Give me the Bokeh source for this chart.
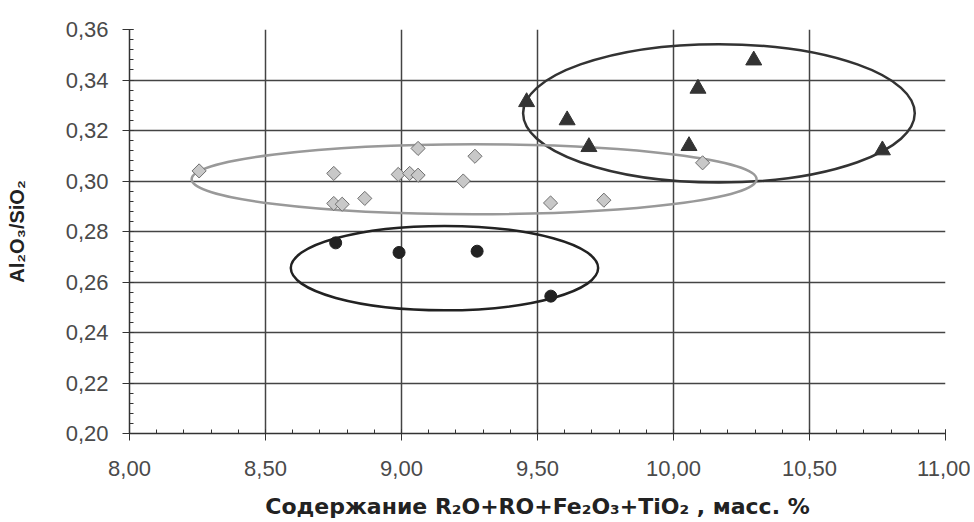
from bokeh.plotting import figure
from bokeh.embed import file_html
from bokeh.resources import INLINE
from bokeh.models import SingleIntervalTicker, CustomJSTickFormatter, Range1d
import numpy as np

# Group 1: triangles
tri_x = [10.295, 10.09, 9.46, 9.609, 9.689, 10.057, 10.768]
tri_y = [0.3478, 0.3366, 0.3313, 0.3241, 0.3135, 0.3139, 0.3122]

# Group 2: diamonds
dia_x = [8.256, 8.751, 9.061, 9.27, 8.988, 9.030, 9.061, 9.227, 8.751, 8.782, 8.865, 9.548, 9.744, 10.107]
dia_y = [0.3040, 0.3030, 0.3129, 0.3098, 0.3026, 0.3030, 0.3023, 0.3000, 0.2911, 0.2908, 0.2931, 0.2913, 0.2924, 0.3072]

# Group 3: circles
cir_x = [8.758, 8.991, 9.278, 9.549]
cir_y = [0.2755, 0.2717, 0.2722, 0.2544]

# Group envelopes (center x, center y, width, height)
env_tri = [10.167, 0.3268, 1.44, 0.0548]
env_dia = [9.267, 0.3007, 2.077, 0.0277]
env_cir = [9.158, 0.2655, 1.13, 0.0334]

x_range = [8.0, 11.0]
y_range = [0.20, 0.36]

p = figure(output_backend="svg", toolbar_location=None,
           frame_width=816, frame_height=404,
           min_border_left=129, min_border_top=29, min_border_right=25, min_border_bottom=88,
           x_range=Range1d(*x_range), y_range=Range1d(*y_range))
p.background_fill_color = "white"
p.border_fill_color = "white"
p.outline_line_color = None

fmt = CustomJSTickFormatter(code="return tick.toFixed(2).replace('.', ',');")
p.xaxis.ticker = SingleIntervalTicker(interval=0.5, num_minor_ticks=5)
p.yaxis.ticker = SingleIntervalTicker(interval=0.02, num_minor_ticks=5)
p.xaxis.formatter = fmt
p.yaxis.formatter = fmt

for ax in (p.xaxis, p.yaxis):
    ax.axis_line_color = "#333333"
    ax.axis_line_width = 1.5
    ax.major_tick_line_color = "#333333"
    ax.minor_tick_line_color = "#333333"
    ax.major_tick_in = 4
    ax.major_tick_out = 7
    ax.minor_tick_in = 4
    ax.minor_tick_out = 0
    ax.major_label_text_font = "Liberation Sans"
    ax.major_label_text_font_size = "22px"
    ax.major_label_text_color = "#4a4a4a"
    ax.axis_label_text_font_style = "bold"
    ax.axis_label_text_color = "#222222"

p.xaxis.major_label_standoff = 20
p.yaxis.major_label_standoff = 14

p.xaxis.axis_label = "Содержание R₂O+RO+Fe₂O₃+TiO₂ , масс. %"
p.xaxis.axis_label_text_font = "DejaVu Sans"
p.xaxis.axis_label_text_font_size = "22px"
p.xaxis.axis_label_standoff = 15

p.yaxis.axis_label = "Al₂O₃/SiO₂"
p.yaxis.axis_label_text_font = "Liberation Sans"
p.yaxis.axis_label_text_font_size = "20px"
p.yaxis.axis_label_standoff = 35

p.grid.grid_line_color = "#444444"
p.grid.grid_line_width = 1.5

# Envelopes
p.ellipse(x=[env_tri[0]], y=[env_tri[1]], width=[env_tri[2]], height=[env_tri[3]],
          fill_color=None, line_color="#333333", line_width=2.5)
p.ellipse(x=[env_dia[0]], y=[env_dia[1]], width=[env_dia[2]], height=[env_dia[3]],
          fill_color=None, line_color="#999999", line_width=2.5)
p.ellipse(x=[env_cir[0]], y=[env_cir[1]], width=[env_cir[2]], height=[env_cir[3]],
          fill_color=None, line_color="#222222", line_width=2.5)

# Markers
p.scatter(dia_x, dia_y, marker="square", angle=np.pi / 4, size=10,
          fill_color="#c8c8c8", line_color="#707070", line_width=1)
p.scatter(tri_x, tri_y, marker="triangle", size=16,
          fill_color="#333333", line_color="#333333")
p.scatter(cir_x, cir_y, marker="circle", size=12,
          fill_color="#222222", line_color="#222222")

open("out.html", "w").write(file_html(p, INLINE))
